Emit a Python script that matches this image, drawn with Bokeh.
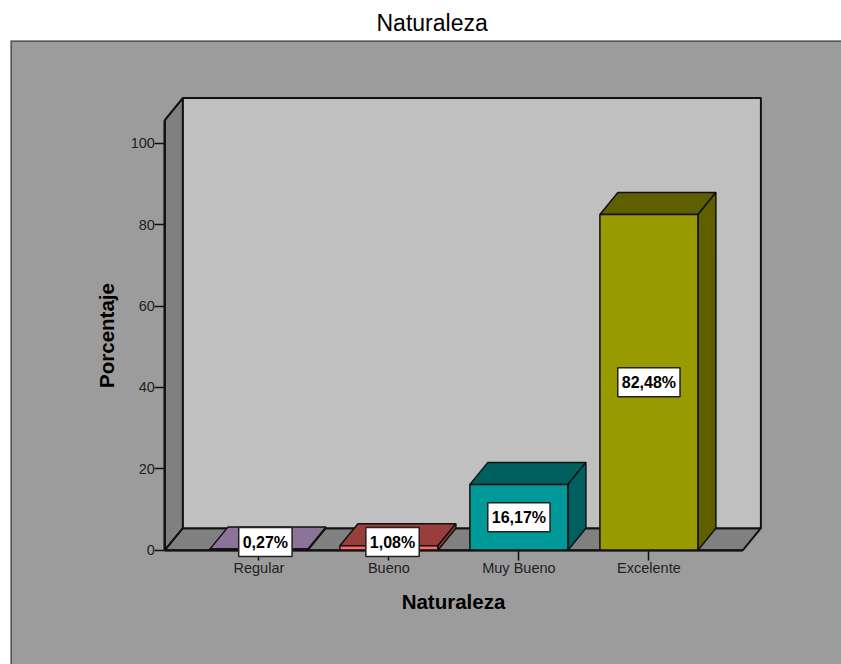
from bokeh.plotting import figure
from bokeh.embed import file_html
from bokeh.resources import INLINE
from bokeh.models import Range1d, LinearAxis, FixedTicker, Title
from bokeh.core.properties import value

categories = ["Regular", "Bueno", "Muy Bueno", "Excelente"]
percentages = [0.27, 1.08, 16.17, 82.48]
value_labels = ["0,27%", "1,08%", "16,17%", "82,48%"]
label_heights = [2.0, 2.0, 8.085, 41.24]
label_shifts = [0.05, 0.028, 0.0, 0.0]
y_ticks = [0, 20, 40, 60, 80, 100]
front_colors = ["#8c7399", "#ff6666", "#009999", "#999900"]
top_colors = ["#8c7399", "#993d3d", "#006060", "#5f5f00"]
side_colors = ["#5e4d66", "#993d3d", "#006060", "#5f5f00"]

PX_X, PX_Y = 130.0, 4.07
CX, CY = 258.4, 549.7
DX, DY = 18 / PX_X, 22 / PX_Y
HALF = 49 / PX_X
X0, X1 = -94 / PX_X, 3 + 94 / PX_X
TOP = 105.7
FONT = "Liberation Sans"

p = figure(width=841, height=664, output_backend="svg", toolbar_location=None,
           x_range=Range1d((10 - CX) / PX_X, (841 - CX) / PX_X),
           y_range=Range1d((CY - 664) / PX_Y, (CY - 40) / PX_Y),
           x_axis_location=None, y_axis_location=None,
           min_border_left=10, min_border_right=0, min_border_bottom=0, min_border_top=40)
p.grid.visible = False
p.background_fill_color = "#9c9c9c"
p.border_fill_color = "#ffffff"
p.outline_line_color = None

title = Title(text="Naturaleza", align="left", offset=366, text_font=FONT,
              text_font_size="23px", text_font_style="normal", text_color="#000000", standoff=9)
p.add_layout(title, "above")

# Panel edge (top and left only; the others run off the page)
xl, xr = p.x_range.start, p.x_range.end
yb, yt = p.y_range.start, p.y_range.end
p.line([xl, xl, xr], [yb, yt, yt], line_color="#555555", line_width=3)

# Chart box
p.patch([X0, X0 + DX, X0 + DX, X0], [0, DY, TOP + DY, TOP],
        fill_color="#808080", line_color="#111111", line_width=2)
p.patch([X0, X1, X1 + DX, X0 + DX], [0, 0, DY, DY],
        fill_color="#808080", line_color="#111111", line_width=2)
p.patch([X0 + DX, X1 + DX, X1 + DX, X0 + DX], [DY, DY, TOP + DY, TOP + DY],
        fill_color="#c0c0c0", line_color="#111111", line_width=2)

# Bars
for i, v in enumerate(percentages):
    l, r = i - HALF, i + HALF
    p.patch([l, l + DX, r + DX, r], [v, v + DY, v + DY, v],
            fill_color=top_colors[i], line_color="#111111", line_width=1.5)
    p.patch([r, r + DX, r + DX, r], [0, DY, v + DY, v],
            fill_color=side_colors[i], line_color="#111111", line_width=1.5)
    p.quad(left=[l], right=[r], bottom=[0], top=[v],
           fill_color=front_colors[i], line_color="#111111", line_width=1.5)

# Value labels
p.text(x=[i + s for i, s in enumerate(label_shifts)], y=label_heights, text=value_labels,
       text_font=value(FONT), text_font_size="16px", text_font_style="bold",
       text_color="#000000", text_align="center", text_baseline="middle",
       background_fill_color="#ffffff", border_line_color="#222222",
       border_line_width=1.5, padding=(4, 6), level="overlay")

# Axes
ya = LinearAxis(fixed_location=X0, bounds=(0, TOP), ticker=FixedTicker(ticks=y_ticks),
                axis_label="Porcentaje", axis_label_text_font=FONT,
                axis_label_text_font_size="20.5px", axis_label_text_font_style="bold",
                axis_label_text_color="#000000", axis_label_standoff=9,
                major_tick_out=10, major_tick_in=0, minor_tick_out=0, minor_tick_in=0,
                major_tick_line_color="#111111", axis_line_color="#111111",
                axis_line_width=2, major_tick_line_width=1.5,
                major_label_text_font=FONT, major_label_text_font_size="14.5px",
                major_label_text_color="#222222", major_label_standoff=0)
p.add_layout(ya, "left")

xa = LinearAxis(fixed_location=0, bounds=(X0, X1), ticker=FixedTicker(ticks=[0, 1, 2, 3]),
                major_label_overrides={i: c for i, c in enumerate(categories)},
                axis_label="Naturaleza", axis_label_text_font=FONT,
                axis_label_text_font_size="20.5px", axis_label_text_font_style="bold",
                axis_label_text_color="#000000", axis_label_standoff=10,
                major_tick_out=10, major_tick_in=0, minor_tick_out=0, minor_tick_in=0,
                major_tick_line_color="#111111", axis_line_color="#111111",
                axis_line_width=2, major_tick_line_width=1.5,
                major_label_text_font=FONT, major_label_text_font_size="14.5px",
                major_label_text_color="#222222", major_label_standoff=0)
p.add_layout(xa, "below")

open("out.html", "w").write(file_html(p, INLINE))
